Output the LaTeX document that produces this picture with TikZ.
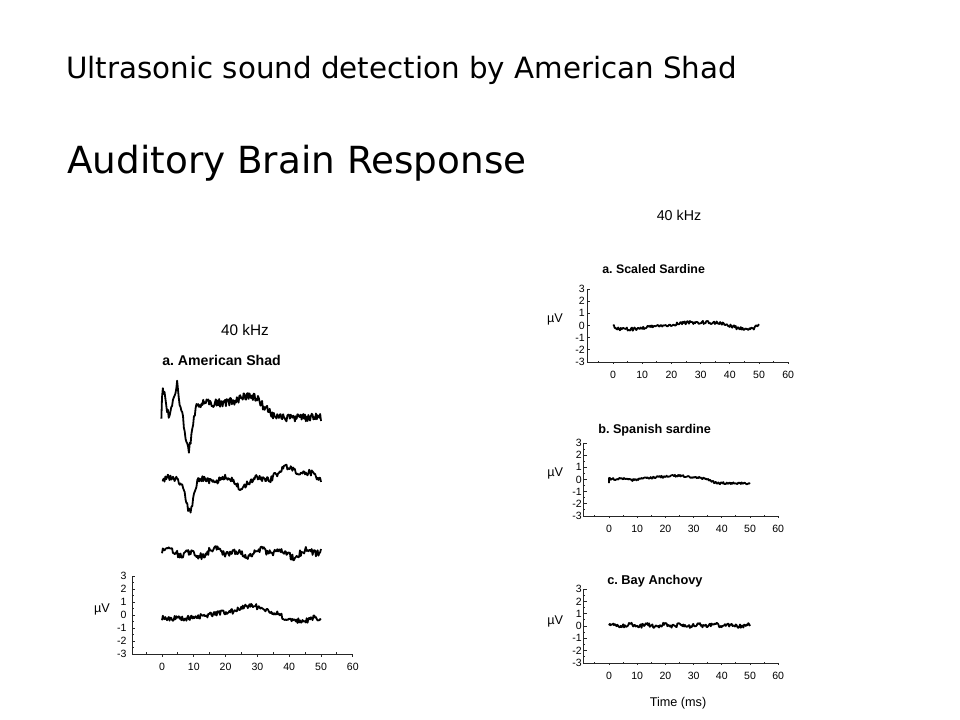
\documentclass[tikz,border=0pt]{standalone}
\usepackage{fontspec}
\setmainfont{DejaVu Sans}
\newfontfamily\arialfont{Liberation Sans}
\frenchspacing

% axes of one recording panel: #1 name prefix, #2 x of the uV axis (ms), #3 label gap
\newcommand{\uvframe}[3]{%
  \draw[axis] (#2,3) -- (#2,-3) -- (60,-3);
  \foreach \v in {-3,...,3} {
    \draw[axis] (#2,\v) -- ++(1,0);
    \node[ticklabel, anchor=east, xshift=-#3] (#1y\v) at (#2,\v) {\v};
  }
  \foreach \v in {-2.5,-1.5,...,2.5}
    \draw[axis] (#2,\v) -- ++(0.5,0);
  \foreach \t in {0,10,...,60} {
    \draw[axis] (\t,-3) -- ++(0,-0.2);
    \node[ticklabel, anchor=north, yshift=-6pt] (#1x\t) at (\t,-3) {\t};
  }
  \foreach \t in {-5,5,...,55}
    \draw[axis] (\t,-3) -- ++(0,0.12);
}

\begin{document}
\begin{tikzpicture}[x=0.75pt, y=-0.75pt,
  declare function={bump(\z,\m,\s)=exp(-min(((\z-\m)/\s)^2,20));
                    ramp(\z,\p,\q)=min(1,max(0,(\z-\p)/(\q-\p)));}]
\tikzstyle{heading}=[anchor=base west, inner sep=0pt]
\tikzstyle{ticklabel}=[font=\arialfont\fontsize{7.9}{9}\selectfont, inner sep=1pt]
\tikzstyle{paneltitle}=[anchor=base west, inner sep=0pt]
\tikzstyle{freq}=[anchor=base, inner sep=0pt]
\tikzstyle{unit}=[font=\arialfont\fontsize{9.5}{11}\selectfont, inner sep=0pt]
\tikzstyle{axis}=[line width=0.7pt, black!85]
\tikzstyle{trace}=[line width=1.35pt, line join=round]
\pgfmathsetseed{4123}

\useasboundingbox (0,0) rectangle (960,720);

\node[heading, font=\fontsize{22}{26}\selectfont] (subject) at (66,79) {Ultrasonic sound detection by American Shad};
\node[heading, font=\fontsize{28}{32}\selectfont] (topic) at (67,174) {Auditory Brain Response};

% left figure
\node[freq, font=\arialfont\fontsize{11.5}{13}\selectfont] (shadfreq) at (245,335) {40 kHz};
\node[paneltitle, font=\arialfont\bfseries\fontsize{10.6}{12}\selectfont] (shadtitle) at (162,365) {a. American Shad};

\begin{scope}[shift={(162,615)}, xscale=3.18, yscale=-13]
  \uvframe{shad}{-9.4}{3pt}
  \node[unit] (shaduv) at (-18.9,0.45) {µV};
  \draw[trace] (-0.2,15.1) -- plot[domain=0:50, samples=190]
    (\x, {16.3 + 0.9*bump(\x,0.4,0.7) - 1.0*bump(\x,2.3,0.8) + 1.5*bump(\x,4.7,0.7)
          - 3.6*bump(\x,8.3,1.6) + 0.5*bump(\x,27,4) - 1.1*ramp(\x,30,36) + 0.32*rand});
  \draw[trace] plot[domain=0:50, samples=190]
    (\x, {10.4 - 2.4*bump(\x,8.8,1.7) + 0.9*bump(\x,41,6) - 0.4*bump(\x,25,3)
          + 0.2*sin(\x*40) + 0.25*rand});
  \draw[trace] plot[domain=0:50, samples=190]
    (\x, {4.8 + 0.2*sin(\x*50) + 0.15*sin(\x*23+40) + 0.25*rand});
  \draw[trace] plot[domain=0:50, samples=190]
    (\x, {-0.25 + 0.4*ramp(\x,8,18) + 0.55*bump(\x,28,5) - 0.6*ramp(\x,36,40)
          + 0.3*bump(\x,48,1.2) + 0.2*rand});
\end{scope}

% right figure
\node[freq, font=\arialfont\fontsize{10.7}{12}\selectfont] (clupfreq) at (679,221) {40 kHz};
\node[paneltitle, font=\arialfont\bfseries\fontsize{9.3}{11}\selectfont] (scaledtitle) at (602,274) {a. Scaled Sardine};
\node[paneltitle, font=\arialfont\bfseries\fontsize{9.5}{11}\selectfont] (spanishtitle) at (598,433) {b. Spanish sardine};
\node[paneltitle, font=\arialfont\bfseries\fontsize{9.6}{11}\selectfont] (anchovytitle) at (607,584) {c. Bay Anchovy};

\begin{scope}[shift={(613,325.5)}, xscale=2.92, yscale=-12.17]
  \uvframe{scaled}{-8.9}{0.5pt}
  \node[unit] (scaleduv) at (-19.9,0.53) {µV};
  \draw[trace] plot[domain=0:50, samples=170]
    (\x, {-0.3*ramp(\x,0,2) + 0.3*ramp(\x,9,15) + 0.25*ramp(\x,18,26) - 0.25*ramp(\x,36,40)
          - 0.25*ramp(\x,40,43) + 0.3*ramp(\x,48,50) + 0.13*rand});
\end{scope}

\begin{scope}[shift={(609,479.5)}, xscale=2.82, yscale=-12.17]
  \uvframe{spanish}{-8.9}{0.5pt}
  \node[unit] (spanishuv) at (-19.1,0.53) {µV};
  \draw[trace] (0,-0.3) -- plot[domain=0:50, samples=170]
    (\x, {0.05 - 0.1*bump(\x,9,2) + 0.25*ramp(\x,10,22) - 0.25*ramp(\x,25,35)
          - 0.35*ramp(\x,34,38) + 0.09*rand});
\end{scope}

\begin{scope}[shift={(609,626)}, xscale=2.82, yscale=-12.33]
  \uvframe{anchovy}{-8.9}{0.5pt}
  \node[unit] (anchovyuv) at (-19.1,0.4) {µV};
  \draw[trace] plot[domain=0:50, samples=170]
    (\x, {0.05 + 0.08*sin(\x*60) + 0.16*rand});
\end{scope}

\node[freq, font=\arialfont\fontsize{9.5}{11}\selectfont] (timelabel) at (678,706) {Time (ms)};
\end{tikzpicture}
\end{document}
